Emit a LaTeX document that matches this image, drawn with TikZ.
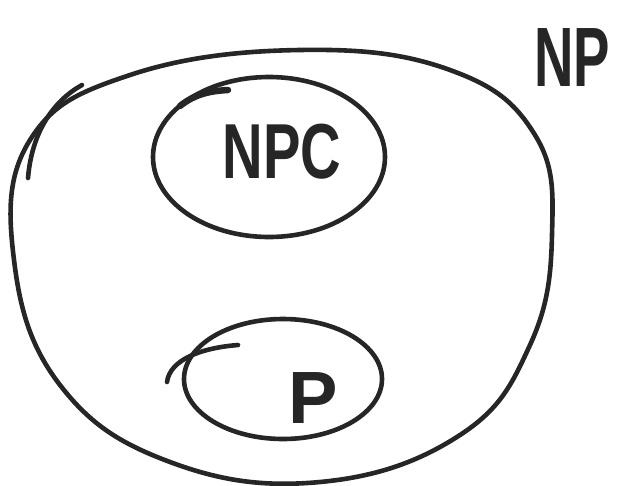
\documentclass[tikz,border=0pt]{standalone}
\usepackage{fontspec}
\setmainfont{Liberation Sans}
\usepackage{graphicx}
\begin{document}
\begin{tikzpicture}[x=1pt,y=-1pt,
  pen/.style={line width=4.6pt,line cap=round,line join=round,black!85},
  label/.style={inner sep=0pt,font=\bfseries\fontsize{78}{78}\selectfont,text=black!85}]
\useasboundingbox (0,0) rectangle (639,485);
% big NP region
\draw[pen] plot[smooth cycle,tension=0.7] coordinates{
 (300,50) (450,70) (535,135) (552,235) (530,345) (460,435) (320,482)
 (170,462) (60,385) (14,260) (30,140) (130,75)};
\draw[pen] (28,178) .. controls (32,130) and (55,100) .. (82,85);
% NPC
\draw[pen] (269,157) ellipse [x radius=116, y radius=80];
\draw[pen,line width=6.5pt] (180,106) .. controls (195,94) and (210,91) .. (228,90);
\node[label] (npc) at (282,152) {\scalebox{0.72}[1]{NPC}};
% P
\draw[pen] (283,379) ellipse [x radius=99, y radius=60];
\draw[pen] (167,382) .. controls (170,360) and (200,348) .. (238,345);
\node[label] (p) at (313,398) {\scalebox{0.95}[0.95]{P}};
% NP
\node[label] (np) at (572,58) {\scalebox{0.7}[1.08]{NP}};
\end{tikzpicture}
\end{document}
